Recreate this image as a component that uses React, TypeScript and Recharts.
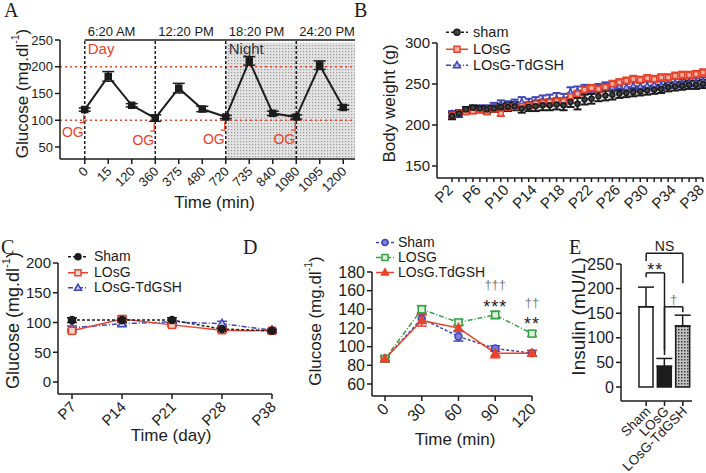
import React from 'react';
import {
  LineChart, Line, BarChart, Bar, Cell, XAxis, YAxis, ErrorBar,
  ReferenceLine, ReferenceArea, ReferenceDot, Legend,
} from 'recharts';

const FONT = '"Liberation Sans", Arial, sans-serif';
const SERIF = '"Liberation Serif", "Times New Roman", serif';
const INK = '#1c1c1c';
const RED = '#e8432c';
const BLUE = '#4046b4';
const GREEN = '#35a043';
const AXIS = { stroke: INK, strokeWidth: 1.5 };

// A: glucose across the day / night
const A_TIMES = ['0', '15', '120', '360', '375', '480', '720', '735', '840', '1080', '1095', '1200'];
const A_GLUCOSE = [120, 182, 128, 104, 160, 121, 106, 211, 113, 106, 203, 124];
const A_ERR = [3, 9, 3, 6, 9, 5, 3, 8, 4, 4, 8, 4];
const A_YTICKS = [50, 100, 150, 200, 250];
const A_CLOCK = ['6:20 AM', '12:20 PM', '18:20 PM', '24:20 PM'];
const A_PHASE = ['Day', '', 'Night', ''];
const A_OG = ['0', '360', '720', '1080'];
const A_FLOOR = 27.6; // value sitting on the x axis line (axis is offset below 50)

// B: body weight
const B_DAYS = ['P2', 'P3', 'P4', 'P5', 'P6', 'P7', 'P8', 'P9', 'P10', 'P11', 'P12', 'P13', 'P14', 'P15', 'P16', 'P17', 'P18', 'P19', 'P20',
  'P21', 'P22', 'P23', 'P24', 'P25', 'P26', 'P27', 'P28', 'P29', 'P30', 'P31', 'P32', 'P33', 'P34', 'P35', 'P36', 'P37', 'P38'];
const B_TICK_LABELS = ['P2', 'P6', 'P10', 'P14', 'P18', 'P22', 'P26', 'P30', 'P34', 'P38'];
const B_SHAM = [211, 214, 219, 221, 220, 219, 220, 222, 222, 223, 220, 222, 223, 224, 224, 225, 224, 228, 226, 231, 232, 235, 236, 237, 238, 239, 240, 241, 242, 243, 244, 246, 247, 248, 249, 249, 250];
const B_LOSG = [212, 215, 216, 217, 218, 216, 219, 214, 221, 222, 223, 224, 226, 227, 228, 229, 229, 235, 238, 243, 245, 244, 246, 250, 252, 254, 256, 255, 257, 256, 258, 258, 260, 261, 261, 262, 264];
const B_TDGSH = [214, 213, 217, 219, 220, 220, 222, 225, 224, 226, 228, 226, 228, 230, 230, 232, 231, 240, 241, 244, 243, 245, 247, 246, 247, 246, 248, 247, 248, 249, 248, 250, 251, 251, 252, 252, 253];
const B_SHAM_ERR = [4, 4, 3, 3, 3, 4, 4, 4, 5, 5, 5, 5, 6, 6, 6, 6, 6, 6, 7, 6, 6, 6, 6, 6, 5, 5, 5, 5, 5, 5, 5, 5, 5, 5, 5, 5, 5];
const B_LOSG_ERR = [3, 3, 3, 3, 3, 3, 3, 3, 3, 3, 3, 4, 4, 4, 4, 4, 4, 4, 4, 4, 4, 4, 4, 4, 4, 4, 4, 4, 4, 4, 4, 4, 4, 4, 4, 4, 4];
const B_TDGSH_ERR = [3, 3, 3, 3, 4, 4, 5, 5, 5, 5, 6, 6, 6, 6, 7, 7, 7, 6, 6, 5, 5, 5, 5, 5, 5, 5, 5, 5, 5, 5, 5, 5, 5, 5, 5, 5, 5];

// C: fasting glucose by day
const C_DAYS = ['P7', 'P14', 'P21', 'P28', 'P38'];
const C_SHAM = [104, 104, 104, 89, 86];
const C_LOSG = [86, 106, 96, 87, 86];
const C_TDGSH = [91, 98, 101, 98, 87];
const C_SHAM_ERR = [4, 3, 4, 4, 2];
const C_LOSG_ERR = [3, 5, 3, 3, 2];
const C_TDGSH_ERR = [3, 3, 3, 4, 2];

// D: glucose tolerance
const D_TIMES = ['0', '30', '60', '90', '120'];
const D_SHAM = [87, 130, 111, 98, 93];
const D_LOSG = [87, 140, 126, 134, 114];
const D_TDGSH = [87, 128, 120, 93, 93];
const D_SHAM_ERR = [3, 5, 5, 3, 3];
const D_LOSG_ERR = [2, 4, 3, 4, 3];
const D_TDGSH_ERR = [2, 6, 3, 5, 3];
const D_SIG = [
  { t: '90', y: 167, text: '†††', star: false },
  { t: '90', y: 147, text: '***', star: true },
  { t: '120', y: 147, text: '††', star: false },
  { t: '120', y: 129, text: '**', star: true },
];

// E: insulin
const E_GROUPS = ['Sham', 'LOsG', 'LOsG-TdGSH'];
const E_INSULIN = [163, 42, 124];
const E_ERR = [40, 16, 22];
const E_BRACKETS = [
  { from: 'Sham', to: 'LOsG-TdGSH', top: 272, left: 256, right: 211, text: 'NS' },
  { from: 'Sham', to: 'LOsG', top: 232, left: 223, right: 65, text: '**' },
  { from: 'LOsG', to: 'LOsG-TdGSH', top: 163, left: 75, right: 152, text: '†' },
];

const A_DATA = A_TIMES.map((t, i) => ({ i, t, glucose: A_GLUCOSE[i], err: A_ERR[i] }));
const A_MARKS = A_OG.map(t => A_TIMES.indexOf(t));
const B_DATA = B_DAYS.map((day, i) => ({
  day, sham: B_SHAM[i], losg: B_LOSG[i], tdgsh: B_TDGSH[i],
  shamErr: B_SHAM_ERR[i], losgErr: B_LOSG_ERR[i], tdgshErr: B_TDGSH_ERR[i],
}));
const C_DATA = C_DAYS.map((day, i) => ({
  day, sham: C_SHAM[i], losg: C_LOSG[i], tdgsh: C_TDGSH[i],
  shamErr: C_SHAM_ERR[i], losgErr: C_LOSG_ERR[i], tdgshErr: C_TDGSH_ERR[i],
}));
const D_DATA = D_TIMES.map((t, i) => ({
  t, sham: D_SHAM[i], losg: D_LOSG[i], tdgsh: D_TDGSH[i],
  shamErr: D_SHAM_ERR[i], losgErr: D_LOSG_ERR[i], tdgshErr: D_TDGSH_ERR[i],
}));
const E_DATA = E_GROUPS.map((g, i) => ({ g, insulin: E_INSULIN[i], err: [0, E_ERR[i]] }));

// series looks
const B_SERIES = [
  { key: 'sham', name: 'sham', color: INK, dash: '3 2', shape: 'circle', fill: '#444' },
  { key: 'losg', name: 'LOsG', color: RED, dash: undefined, shape: 'square', fill: '#f6b3a8' },
  { key: 'tdgsh', name: 'LOsG-TdGSH', color: BLUE, dash: '5 2 1 2', shape: 'triangle', fill: '#b9bcec' },
];
const C_SERIES = [
  { key: 'sham', name: 'Sham', color: INK, dash: '3 2', shape: 'circle', fill: INK },
  { key: 'losg', name: 'LOsG', color: RED, dash: undefined, shape: 'square', fill: '#fbd6cf' },
  { key: 'tdgsh', name: 'LOsG-TdGSH', color: BLUE, dash: '5 2 1 2', shape: 'triangle', fill: '#cfd1f1' },
];
const D_SERIES = [
  { key: 'sham', name: 'Sham', color: BLUE, dash: '3 2', shape: 'circle', fill: '#7d81d9' },
  { key: 'losg', name: 'LOSG', color: GREEN, dash: '5 2 1 2', shape: 'square', fill: '#dcf0dc' },
  { key: 'tdgsh', name: 'LOsG.TdGSH', color: RED, dash: undefined, shape: 'triangle', fill: RED },
];
const E_FILLS = ['#ffffff', INK, 'url(#eDots)'];

const marker = (shape: string, cx: number, cy: number, s: number, stroke: string, fill: string, key?: string) => {
  if (cx == null || cy == null) return <g key={key} />;
  if (shape === 'square') {
    return <rect key={key} x={cx - s / 2} y={cy - s / 2} width={s} height={s} stroke={stroke} fill={fill} strokeWidth={1.5} />;
  }
  if (shape === 'triangle') {
    const d = `M${cx} ${cy - s * 0.62} L${cx + s * 0.58} ${cy + s * 0.42} L${cx - s * 0.58} ${cy + s * 0.42} Z`;
    return <path key={key} d={d} stroke={stroke} fill={fill} strokeWidth={1.5} />;
  }
  return <circle key={key} cx={cx} cy={cy} r={s / 2} stroke={stroke} fill={fill} strokeWidth={1.5} />;
};

const dotOf = (shape: string, s: number, stroke: string, fill: string) => (p: any) =>
  marker(shape, p.cx, p.cy, s, stroke, fill, `m${p.index}`);

const RotTick = (props: any) => {
  const { x, y, payload, labels, only, size, shift = 1, drop = 3 } = props;
  const text = labels ? labels[payload.value] : String(payload.value);
  if (only && !only.includes(text)) return <g />;
  const ax = x + shift;
  const ay = y + drop;
  return (
    <text x={ax} y={ay} transform={`rotate(-45 ${ax} ${ay})`} textAnchor="end" dominantBaseline="central"
      fontSize={size} fill={INK} fontFamily={FONT}>{text}</text>
  );
};

const YTitle = ({ viewBox, text, sup, tail, dx, dy, size }: any) => {
  const cx = viewBox.x + dx;
  const cy = viewBox.y + viewBox.height / 2 + dy;
  return (
    <text x={cx} y={cy} transform={`rotate(-90 ${cx} ${cy})`} textAnchor="middle" dominantBaseline="central"
      fontSize={size} fill={INK} fontFamily={FONT}>
      {text}
      {sup && <tspan dy={-size * 0.4} fontSize={size * 0.62}>{sup}</tspan>}
      {sup && <tspan dy={size * 0.4}>{tail}</tspan>}
    </text>
  );
};

const XTitle = ({ viewBox, text, dx, dy, size }: any) => (
  <text x={viewBox.x + viewBox.width / 2 + dx} y={viewBox.y + dy} textAnchor="middle"
    fontSize={size} fill={INK} fontFamily={FONT}>{text}</text>
);

// clock time above, Day/Night inside the dashed line
const PhaseLabel = ({ viewBox, clock, phase }: any) => (
  <g fontFamily={FONT}>
    <text x={viewBox.x + 3} y={viewBox.y - 4} fontSize={13} fill={INK}>{clock}</text>
    {phase && (
      <text x={viewBox.x + 3} y={viewBox.y + 14} fontSize={15} fill={phase === 'Day' ? RED : '#333'}>{phase}</text>
    )}
  </g>
);

// oral glucose marker under a point
const OgMark = ({ viewBox }: any) => {
  const { x, y } = viewBox;
  return (
    <g>
      <path d={`M${x - 1} ${y + 5} V${y + 13} H${x - 5}`} stroke={RED} strokeWidth={1.3} fill="none" />
      <text x={x - 1} y={y + 27} textAnchor="end" fontSize={14} fill={RED} fontFamily={FONT}>OG</text>
    </g>
  );
};

const Annot = ({ viewBox, text, size, color, dy, spacing }: any) => (
  <text x={viewBox.x + (viewBox.width || 0) / 2} y={viewBox.y + (viewBox.height || 0) / 2 + dy}
    textAnchor="middle" dominantBaseline="central" fontSize={size} fill={color}
    letterSpacing={spacing} fontFamily={FONT}>{text}</text>
);

const LegendBox = ({ items, size, rowH, iconW, gap }: any) => (
  <div style={{ fontFamily: FONT, fontSize: size, color: INK, lineHeight: `${rowH}px` }}>
    {items.map((it: any) => (
      <div key={it.key} style={{ display: 'flex', alignItems: 'center', height: rowH, whiteSpace: 'nowrap' }}>
        <svg width={iconW} height={rowH} style={{ display: 'block' }}>
          <line x1={0} x2={iconW} y1={rowH / 2} y2={rowH / 2} stroke={it.color} strokeWidth={1.5} strokeDasharray={it.dash} />
          {marker(it.shape, iconW / 2, rowH / 2, 6, it.color, it.fill)}
        </svg>
        <span style={{ marginLeft: gap }}>{it.name}</span>
      </div>
    ))}
  </div>
);

const seriesLines = (series: any[], size: number, errW: number, errStroke: number) =>
  series.map(s => (
    <Line key={s.key} dataKey={s.key} stroke={s.color} strokeWidth={1.5} strokeDasharray={s.dash}
      dot={dotOf(s.shape, size, s.color, s.fill)} isAnimationActive={false}>
      <ErrorBar dataKey={`${s.key}Err`} width={errW} stroke={s.color} strokeWidth={errStroke} />
    </Line>
  ));

const PanelA = () => (
  <div style={{ position: 'absolute', left: 0, top: 0 }}>
    <LineChart width={360} height={240} data={A_DATA} margin={{ top: 40, right: 5, bottom: 0, left: 0 }}>
      <defs>
        <pattern id="nightDots" width={3} height={3} patternUnits="userSpaceOnUse">
          <rect width={3} height={3} fill="#e3e3e3" />
          <rect width={1.2} height={1.2} fill="#9a9a9a" />
        </pattern>
      </defs>
      <XAxis type="number" dataKey="i" domain={[-0.5, A_TIMES.length - 0.5]} ticks={A_TIMES.map((_, i) => i)} interval={0}
        padding={{ left: 13, right: 0 }} height={81} tickSize={5} axisLine={AXIS} tickLine={AXIS}
        tick={<RotTick labels={A_TIMES} size={13} />} label={<XTitle text="Time (min)" dx={7} dy={49} size={17} />} />
      <YAxis type="number" domain={[50, 250]} ticks={A_YTICKS} interval={0} padding={{ top: 0, bottom: 12 }} width={60}
        tickSize={5} axisLine={AXIS} tickLine={AXIS} tick={{ fontSize: 13, fill: INK, fontFamily: FONT }}
        label={<YTitle text="Glucose (mg.dl" sup="-1" tail=")" dx={22} dy={-6} size={17} />} />
      <ReferenceArea x1={A_MARKS[2]} x2={A_TIMES.length - 0.5} y1={A_FLOOR} y2={245} ifOverflow="visible"
        fill="url(#nightDots)" fillOpacity={1} stroke="none" />
      <ReferenceLine y={200} stroke={RED} strokeDasharray="2 3" strokeWidth={1.5} />
      <ReferenceLine y={100} stroke={RED} strokeDasharray="2 3" strokeWidth={1.5} />
      <ReferenceLine segment={[{ x: 0, y: 250 }, { x: A_TIMES.length - 0.5, y: 250 }]} stroke={INK} strokeWidth={1.5} />
      {A_MARKS.map((i, k) => (
        <ReferenceLine key={`v${i}`} x={i} stroke={INK} strokeDasharray="3 2" strokeWidth={1.5}
          label={<PhaseLabel clock={A_CLOCK[k]} phase={A_PHASE[k]} />} />
      ))}
      {A_MARKS.map(i => (
        <ReferenceDot key={`og${i}`} x={i} y={A_GLUCOSE[i]} r={0} fill="none" stroke="none" label={<OgMark />} />
      ))}
      <Line dataKey="glucose" stroke={INK} strokeWidth={2} dot={dotOf('square', 6, INK, INK)} isAnimationActive={false}>
        <ErrorBar dataKey="err" width={6} stroke={INK} strokeWidth={1.5} />
      </Line>
    </LineChart>
  </div>
);

const PanelB = () => (
  <div style={{ position: 'absolute', left: 350, top: 0 }}>
    <LineChart width={356} height={240} data={B_DATA} margin={{ top: 43, right: 3, bottom: 0, left: 0 }}>
      <XAxis dataKey="day" interval={0} padding={{ left: 15, right: 0 }} height={62} tickSize={4}
        axisLine={AXIS} tickLine={AXIS} tick={<RotTick only={B_TICK_LABELS} size={15} shift={-2} />} />
      <YAxis domain={[150, 300]} ticks={[150, 200, 250, 300]} interval={0} padding={{ top: 0, bottom: 12 }} width={87}
        tickSize={5} axisLine={AXIS} tickLine={AXIS} tick={{ fontSize: 15, fill: INK, fontFamily: FONT }}
        label={<YTitle text="Body weight (g)" dx={39} dy={-7} size={17} />} />
      <Legend layout="vertical" align="center" verticalAlign="middle" wrapperStyle={{ top: 24, left: 96, width: 'auto' }}
        content={() => <LegendBox items={B_SERIES} size={14.5} rowH={16.5} iconW={22} gap={5} />} />
      {seriesLines([B_SERIES[2], B_SERIES[1], B_SERIES[0]], 5, 4, 2)}
    </LineChart>
  </div>
);

const PanelC = () => (
  <div style={{ position: 'absolute', left: 0, top: 240 }}>
    <LineChart width={280} height={233} data={C_DATA} margin={{ top: 23, right: 8, bottom: 0, left: 0 }}>
      <XAxis dataKey="day" interval={0} padding={{ left: 14, right: 0 }} height={79} tickSize={5}
        axisLine={AXIS} tickLine={AXIS} tick={<RotTick size={15} />}
        label={<XTitle text="Time (day)" dx={6} dy={47} size={17} />} />
      <YAxis domain={[0, 200]} ticks={[0, 50, 100, 150, 200]} interval={0} padding={{ top: 0, bottom: 12 }} width={58}
        tickSize={5} axisLine={AXIS} tickLine={AXIS} tick={{ fontSize: 15, fill: INK, fontFamily: FONT }}
        label={<YTitle text="Glucose (mg.dl" sup="-1" tail=")" dx={13} dy={-8} size={18} />} />
      <Legend layout="vertical" align="center" verticalAlign="middle" wrapperStyle={{ top: 9, left: 68, width: 'auto' }}
        content={() => <LegendBox items={C_SERIES} size={14} rowH={15.5} iconW={20} gap={6} />} />
      {seriesLines([C_SERIES[2], C_SERIES[1], C_SERIES[0]], 7, 5, 1.5)}
    </LineChart>
  </div>
);

const PanelD = () => (
  <div style={{ position: 'absolute', left: 270, top: 240 }}>
    <LineChart width={270} height={233} data={D_DATA} margin={{ top: 32, right: 8, bottom: 0, left: 0 }}>
      <XAxis dataKey="t" interval={0} padding={{ left: 13, right: 0 }} height={77} tickSize={5}
        axisLine={AXIS} tickLine={AXIS} tick={<RotTick size={16} />}
        label={<XTitle text="Time (min)" dx={3} dy={49} size={17} />} />
      <YAxis domain={[60, 180]} ticks={[60, 80, 100, 120, 140, 160, 180]} interval={0} padding={{ top: 0, bottom: 12 }} width={102}
        tickSize={5} axisLine={AXIS} tickLine={AXIS} tick={{ fontSize: 16, fill: INK, fontFamily: FONT }}
        label={<YTitle text="Glucose (mg.dl" sup="-1" tail=")" dx={45} dy={-13} size={17} />} />
      <Legend layout="vertical" align="center" verticalAlign="middle" wrapperStyle={{ top: -5, left: 106, width: 'auto' }}
        content={() => <LegendBox items={D_SERIES} size={14} rowH={15} iconW={18} gap={4} />} />
      {seriesLines([D_SERIES[0], D_SERIES[1], D_SERIES[2]], 7, 5, 1.5)}
      {D_SIG.map(s => (
        <ReferenceDot key={s.t + s.text} x={s.t} y={s.y} r={0} fill="none" stroke="none" ifOverflow="visible"
          label={<Annot text={s.text} size={s.star ? 18 : 13} color={s.star ? INK : '#808080'} dy={s.star ? 4 : 0} spacing={s.star ? 1 : 0} />} />
      ))}
    </LineChart>
  </div>
);

const PanelE = () => (
  <div style={{ position: 'absolute', left: 540, top: 230 }}>
    <BarChart width={166} height={243} data={E_DATA} margin={{ top: 34, right: 14, bottom: 0, left: 0 }}>
      <defs>
        <pattern id="eDots" width={3} height={3} patternUnits="userSpaceOnUse">
          <rect width={3} height={3} fill="#c4c4c4" />
          <rect width={1.5} height={1.5} fill="#3a3a3a" />
        </pattern>
      </defs>
      <XAxis dataKey="g" interval={0} padding={{ left: 16, right: 0 }} height={72} tickSize={5}
        axisLine={AXIS} tickLine={AXIS} tick={<RotTick size={13.5} drop={1} shift={2} />} />
      <YAxis domain={[0, 250]} ticks={[0, 50, 100, 150, 200, 250]} interval={0} padding={{ top: 0, bottom: 14 }} width={81}
        tickSize={5} axisLine={AXIS} tickLine={AXIS} tick={{ fontSize: 16, fill: INK, fontFamily: FONT }}
        label={<YTitle text="Insulin (mU/L)" dx={38} dy={-16} size={19} />} />
      <Bar dataKey="insulin" barSize={14} stroke={INK} strokeWidth={1.5} isAnimationActive={false}>
        {E_GROUPS.map((g, k) => <Cell key={g} fill={E_FILLS[k]} />)}
        <ErrorBar dataKey="err" width={8} stroke={INK} strokeWidth={1.5} />
      </Bar>
      {E_BRACKETS.map(b => (
        <React.Fragment key={b.text}>
          <ReferenceLine segment={[{ x: b.from, y: b.top }, { x: b.to, y: b.top }]} stroke={INK} strokeWidth={1.5} ifOverflow="visible"
            label={<Annot text={b.text} size={b.text === '**' ? 18 : b.text === 'NS' ? 14 : 13}
              color={b.text === '†' ? '#808080' : INK} dy={b.text === '**' ? -3 : -7} spacing={b.text === '**' ? 1 : 0} />} />
          <ReferenceLine segment={[{ x: b.from, y: b.top }, { x: b.from, y: b.left }]} stroke={INK} strokeWidth={1.5} ifOverflow="visible" />
          <ReferenceLine segment={[{ x: b.to, y: b.top }, { x: b.to, y: b.right }]} stroke={INK} strokeWidth={1.5} ifOverflow="visible" />
        </React.Fragment>
      ))}
    </BarChart>
  </div>
);

const LETTERS = [
  { t: 'A', x: 4, y: 0 }, { t: 'B', x: 354, y: 0 }, { t: 'C', x: 1, y: 237 },
  { t: 'D', x: 243, y: 237 }, { t: 'E', x: 569, y: 237 },
];

export default function App() {
  return (
    <div style={{ position: 'absolute', left: 0, top: 0, width: 706, height: 473, background: '#fff', overflow: 'hidden', fontFamily: FONT }}>
      <PanelA />
      <PanelB />
      <PanelC />
      <PanelD />
      <PanelE />
      {LETTERS.map(l => (
        <div key={l.t} style={{ position: 'absolute', left: l.x, top: l.y, fontFamily: SERIF, fontSize: 20, lineHeight: '20px', color: INK }}>{l.t}</div>
      ))}
    </div>
  );
}
